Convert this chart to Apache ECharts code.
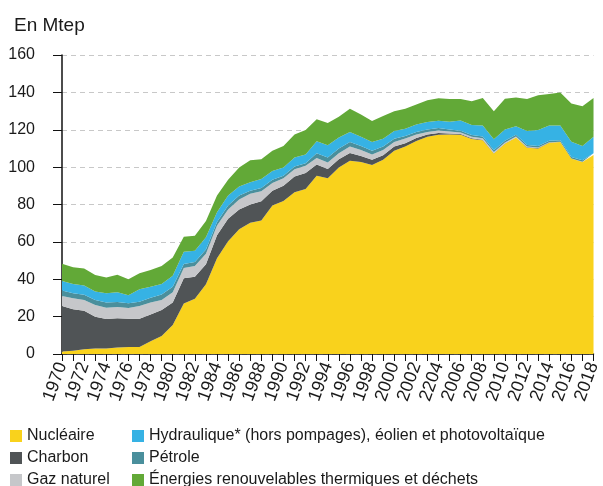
<!DOCTYPE html>
<html>
<head>
<meta charset="utf-8">
<script src="https://cdn.jsdelivr.net/npm/echarts@6/dist/echarts.min.js"></script>
<style>html,body{margin:0;padding:0;background:#fff}#c{width:603px;height:486px}</style>
</head>
<body>
<div id="c"></div>
<script>
const years = [];
for (let y = 1970; y <= 2018; y++) years.push(String(y));
const tickLabels = ["1970","1971","1972","1973","1974","1975","1976","1977","1978","1979","1980","1981","1982","1983","1984","1985","1986","1987","1988","1989","1990","1991","1992","1993","1994","1995","1996","1997","1998","1999","2000","2001","2002","2003","2204","2005","2006","2007","2008","2009","2010","2011","2012","2013","2014","2015","2016","2017","2018"];

const nucleaire = [1.3,1.8,2.6,3.0,3.0,3.5,3.7,3.7,6.8,9.6,15.5,27.0,29.6,37.3,51.2,60.4,66.7,70.3,71.5,79.5,81.9,86.5,88.3,95.4,94.0,99.8,103.4,102.8,101.1,103.9,108.7,111.0,114.0,116.3,117.3,117.5,117.3,115.0,114.4,107.3,112.5,115.8,110.4,109.9,113.1,113.5,104.6,102.8,106.5];
const charbon = [24.4,22.1,20.6,17.0,15.7,15.6,15.2,15.2,14.4,13.9,12.1,13.5,11.7,10.7,12.3,12.0,10.6,9.7,10.3,7.9,8.2,8.5,8.5,6.0,5.0,4.4,4.1,3.2,2.8,2.5,2.3,1.8,1.6,1.1,0.9,0.5,0.4,0.4,0.3,0.1,0.1,0.1,0.3,0.3,0.1,0,0,0,0];
const gaz = [5.3,5.9,5.7,6.2,6.1,6.0,5.7,6.8,6.3,5.4,5.4,5.5,5.8,5.6,5.3,4.9,5.4,5.7,5.3,4.1,3.9,3.9,3.9,3.5,3.5,3.2,3.5,3.2,2.8,2.8,2.5,2.5,1.9,1.4,1.4,1.0,0.8,0.8,0.8,0.7,0.6,0.5,0.4,0.3,0.1,0.05,0.02,0.02,0.02];
const petrole = [3.0,2.7,2.8,2.7,2.7,2.7,2.5,2.3,2.6,3.0,3.0,2.2,2.1,2.3,1.8,2.2,2.1,1.7,1.7,1.8,1.4,1.5,1.4,2.5,2.6,2.5,2.5,2.1,2.1,1.8,1.7,1.4,1.3,1.4,1.3,1.2,1.0,1.0,0.9,0.9,0.9,0.9,0.8,0.8,0.8,0.8,0.8,0.8,0.9];
const hydraulique = [5.0,5.0,5.0,4.5,5.0,5.2,4.3,6.6,5.9,5.6,5.9,6.5,6.0,6.6,5.3,5.3,4.8,4.5,4.8,4.6,4.4,4.7,4.6,6.4,6.6,5.9,5.3,5.0,4.6,4.2,4.1,3.9,4.0,3.9,3.9,4.1,5.5,5.3,5.9,5.9,6.1,4.6,7.4,8.5,8.2,7.95,8.1,7.7,8.9];
const enrThermiques = [9.3,8.9,9.0,8.9,8.5,9.4,8.6,8.6,8.9,9.6,9.8,8.0,8.1,8.7,8.9,8.5,10.2,11.8,10.6,10.8,11.5,12.4,13.1,11.8,11.9,11.1,12.4,11.8,11.3,12.1,10.6,10.7,10.7,11.7,12.0,12.2,11.5,12.7,14.7,15.0,16.4,15.4,17.2,18.6,16.8,17.7,20.5,21.3,20.7];

const yTicks = [0,20,40,60,80,100,120,140,160];

const FONT = '"Liberation Sans", Arial, Helvetica, sans-serif';
const TXT = '#1a1a1a';

function area(name, data, color) {
  return {
    name, type: 'line', stack: 'total', data,
    symbol: 'none', smooth: false,
    lineStyle: { width: 0 },
    areaStyle: { color, opacity: 1 },
    itemStyle: { color },
    emphasis: { disabled: true },
    z: 2
  };
}

const legendText = { fontFamily: FONT, fontSize: 16, color: TXT, lineHeight: 16 };

const chart = echarts.init(document.getElementById('c'), null, { renderer: 'canvas' });
chart.setOption({
  animation: false,
  backgroundColor: '#fff',
  textStyle: { fontFamily: FONT },
  title: {
    text: 'En Mtep', left: 9, top: 11,
    textStyle: { fontFamily: FONT, fontSize: 19, fontWeight: 'normal', color: TXT }
  },
  grid: { left: 62, right: 3, top: 55, bottom: 132, containLabel: false },
  legend: [
    {
      left: 10, top: 428, height: 80, width: 120, orient: 'vertical', itemGap: 6, padding: 0,
      itemWidth: 12, itemHeight: 12, icon: 'rect', selectedMode: false,
      textStyle: legendText,
      data: ['Nucléaire', 'Charbon', 'Gaz naturel']
    },
    {
      left: 132, top: 428, height: 80, width: 470, orient: 'vertical', itemGap: 6, padding: 0,
      itemWidth: 12, itemHeight: 12, icon: 'rect', selectedMode: false,
      textStyle: legendText,
      data: ['Hydraulique* (hors pompages), éolien et photovoltaïque', 'Pétrole', 'Énergies renouvelables thermiques et déchets']
    }
  ],
  xAxis: {
    type: 'category', data: years, boundaryGap: false,
    axisLine: { lineStyle: { color: '#111', width: 1.5 } },
    axisTick: { show: true, interval: 0, length: 7, lineStyle: { color: '#111', width: 1 } },
    axisLabel: {
      interval: 1, rotate: 70, margin: 9,
      fontFamily: FONT, fontSize: 18, color: TXT,
      formatter: (v, i) => tickLabels[i]
    },
    splitLine: { show: false }
  },
  yAxis: {
    type: 'value', min: yTicks[0], max: yTicks[yTicks.length - 1], interval: 20,
    axisLine: { show: true, lineStyle: { color: '#111', width: 1.5 } },
    axisTick: { show: true, length: 9, lineStyle: { color: '#111', width: 1 } },
    axisLabel: { margin: 27, fontFamily: FONT, fontSize: 16, color: TXT },
    splitLine: { show: true, lineStyle: { color: '#c8c8c8', type: [5, 4], width: 1 } }
  },
  series: [
    area('Nucléaire', nucleaire, '#F9D21C'),
    area('Charbon', charbon, '#505456'),
    area('Gaz naturel', gaz, '#C6C7CA'),
    area('Pétrole', petrole, '#4A8F9C'),
    area('Hydraulique* (hors pompages), éolien et photovoltaïque', hydraulique, '#36B2E4'),
    area('Énergies renouvelables thermiques et déchets', enrThermiques, '#62A937')
  ]
});
</script>
</body>
</html>
